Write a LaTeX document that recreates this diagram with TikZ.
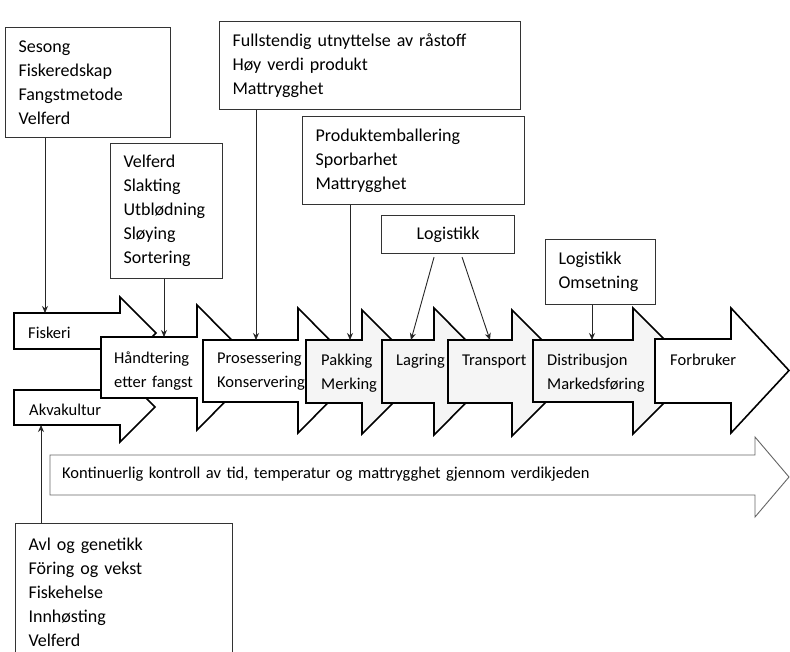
\documentclass[tikz,border=0pt]{standalone}
\usepackage{fontspec}
\setmainfont{Carlito}
\usetikzlibrary{arrows.meta}
\tikzset{
  txt/.style={font=\fontsize{16.5}{24}\selectfont},
  boxtxt/.style={font=\fontsize{18}{24}\selectfont},
  infobox/.style={boxtxt, draw=black!80, line width=1.1pt, fill=white, anchor=north west,
    align=left, inner xsep=13pt, inner ysep=0pt},
  chev/.style={draw=black, line width=1.6pt, fill=white, line join=miter},
  chevgray/.style={chev, fill=black!4},
  lbl/.style={txt, anchor=base west, inner sep=0pt, align=left, text width=125pt},
  conn/.style={draw=black!85, line width=0.9pt, -{Stealth[length=7pt,width=6pt]}},
  ctrl/.style={draw=black!60, line width=0.9pt, fill=white, line join=miter},
}
% #1 style, #2 x0, #3 x1, #4 body top, #5 body bottom, #6 head top, #7 head bottom, #8 tip x
\newcommand\chevshape[8]{%
  \path[#1] (#2,#4) -- (#3,#4) -- (#3,#6) -- (#8,{(#6+#7)/2}) -- (#3,#7) -- (#3,#5) -- (#2,#5) -- cycle;}
\begin{document}
\begin{tikzpicture}[x=1pt,y=-1pt]
\clip (0,0) rectangle (790,651);
\fill[white] (0,0) rectangle (790,651);

% info boxes
\node[infobox, minimum width=165pt, minimum height=110pt, text width=139pt] (boxA) at (5,27)
  {Sesong\\Fiskeredskap\\Fangstmetode\\Velferd};
\node[infobox, minimum width=112pt, minimum height=135pt, text width=86pt] (boxB) at (110,143)
  {Velferd\\Slakting\\Utblødning\\Sløying\\Sortering};
\node[infobox, minimum width=301pt, minimum height=88pt, text width=275pt] (boxC) at (219,21)
  {Fullstendig utnyttelse av råstoff\\Høy verdi produkt\\Mattrygghet};
\node[infobox, minimum width=222pt, minimum height=88pt, text width=196pt] (boxD) at (302,116)
  {Produktemballering\\Sporbarhet\\Mattrygghet};
\node[infobox, align=center, minimum width=133pt, minimum height=38pt, text width=107pt] (boxE) at (381,215)
  {Logistikk};
\node[infobox, minimum width=110pt, minimum height=65pt, text width=84pt] (boxF) at (545,239)
  {Logistikk\\Omsetning};
\node[infobox, minimum width=217pt, minimum height=137pt, text width=191pt] (boxG) at (15,523)
  {Avl og genetikk\\Föring og vekst\\Fiskehelse\\Innhøsting\\Velferd};

% control arrow
\chevshape{ctrl}{50}{755}{455}{495}{437}{517}{789}
\node[lbl, text width=620pt] (ctrlText) at (62,478)
  {Kontinuerlig kontroll av tid, temperatur og mattrygghet gjennom verdikjeden};

% value chain arrows
\chevshape{chev}{14}{120}{313}{349}{297}{369}{156}
\node[lbl] (fisk) at (28,338) {Fiskeri};
\chevshape{chev}{14}{120}{390}{425}{372}{442}{155}
\node[lbl] (akva) at (29,415) {Akvakultur};
\chevshape{chev}{101}{197}{337}{398}{305}{430}{259}
\node[lbl] (hand) at (114,363) {Håndtering\\etter fangst};
\chevshape{chev}{203}{298}{340}{402}{308}{433}{360}
\node[lbl] (pros) at (217,363) {Prosessering\\Konservering};
\chevshape{chevgray}{306}{362}{340}{403}{310}{434}{424}
\node[lbl] (pakk) at (321,365) {Pakking\\Merking};
\chevshape{chevgray}{382}{434}{340}{403}{308}{435}{497}
\node[lbl] (lag) at (396,365) {Lagring};
\chevshape{chevgray}{448}{512}{340}{403}{310}{436}{575}
\node[lbl] (trans) at (462,365) {Transport};
\chevshape{chevgray}{533}{633}{340}{402}{308}{434}{696}
\node[lbl] (dist) at (547,365) {Distribusjon\\Markedsføring};
\chevshape{chev}{655}{731}{339}{403}{308}{433}{789}
\node[lbl] (forb) at (670,365) {Forbruker};

% connector end points
\coordinate (inFisk) at (45,313);
\coordinate (inHand) at (164,337);
\coordinate (inPros) at (256,340);
\coordinate (inPakk) at (350,340);
\coordinate (inLag) at (411,340);
\coordinate (inTrans) at (490,340);
\coordinate (inDist) at (592,340);
\coordinate (inAkva) at (41,425);

\draw[conn] (boxA.south -| inFisk) -- (inFisk);
\draw[conn] (boxB.south -| inHand) -- (inHand);
\draw[conn] (boxC.south -| inPros) -- (inPros);
\draw[conn] (boxD.south -| inPakk) -- (inPakk);
\draw[conn] ([xshift=-14pt,yshift=-3pt]boxE.south) -- (inLag);
\draw[conn] ([xshift=14pt,yshift=-3pt]boxE.south) -- (inTrans);
\draw[conn] (boxF.south -| inDist) -- (inDist);
\draw[conn] (boxG.north -| inAkva) -- (inAkva);
\end{tikzpicture}
\end{document}
